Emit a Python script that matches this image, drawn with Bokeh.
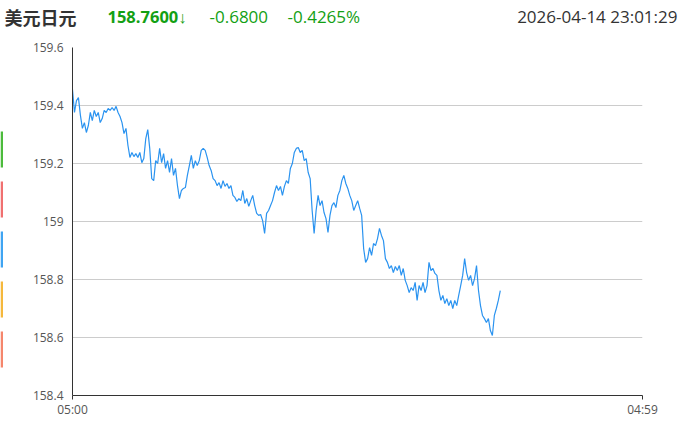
from bokeh.plotting import figure
from bokeh.models import Range1d, FixedTicker
from bokeh.layouts import column, row
from bokeh.embed import file_html
from bokeh.resources import INLINE
from bokeh.core.properties import value

# ---- header texts ----
title_name = "美元日元"
last_price = "158.7600↓"
change_abs = "-0.6800"
change_pct = "-0.4265%"
timestamp = "2026-04-14 23:01:29"

# ---- axes ----
x_tick_minutes = [0, 1439]
x_tick_labels = ["05:00", "04:59"]
y_ticks = [158.4, 158.6, 158.8, 159.0, 159.2, 159.4, 159.6]
y_tick_labels = ["158.4", "158.6", "158.8", "159", "159.2", "159.4", "159.6"]

# ---- series: price sampled every 5 minutes from 05:00 ----
step_minutes = 5
prices = [
    159.455, 159.376, 159.417, 159.427, 159.366, 159.321, 159.341, 159.307, 159.331, 159.376,
    159.348, 159.383, 159.362, 159.376, 159.341, 159.355, 159.383, 159.376, 159.390, 159.383,
    159.393, 159.383, 159.397, 159.376, 159.362, 159.341, 159.303, 159.321, 159.262, 159.221,
    159.238, 159.224, 159.234, 159.221, 159.238, 159.203, 159.217, 159.286, 159.317, 159.252,
    159.148, 159.141, 159.210, 159.200, 159.252, 159.203, 159.234, 159.183, 159.210, 159.169,
    159.217, 159.159, 159.183, 159.124, 159.079, 159.107, 159.114, 159.117, 159.159, 159.193,
    159.228, 159.183, 159.210, 159.193, 159.210, 159.245, 159.252, 159.245, 159.221, 159.193,
    159.176, 159.148, 159.141, 159.124, 159.134, 159.114, 159.141, 159.121, 159.131, 159.114,
    159.124, 159.090, 159.083, 159.069, 159.079, 159.072, 159.107, 159.062, 159.079, 159.052,
    159.072, 159.090, 159.055, 159.028, 159.021, 159.024, 159.003, 158.959, 159.028, 159.038,
    159.055, 159.072, 159.100, 159.124, 159.107, 159.121, 159.090, 159.121, 159.141, 159.131,
    159.183, 159.200, 159.238, 159.252, 159.255, 159.238, 159.245, 159.210, 159.217, 159.169,
    159.148, 159.038, 158.959, 159.038, 159.090, 159.055, 159.072, 159.031, 159.010, 158.962,
    159.021, 159.055, 159.065, 159.048, 159.090, 159.107, 159.141, 159.159, 159.131, 159.114,
    159.090, 159.072, 159.038, 159.055, 159.072, 159.045, 159.021, 158.907, 158.859, 158.872,
    158.910, 158.883, 158.924, 158.917, 158.941, 158.976, 158.952, 158.934, 158.872, 158.859,
    158.838, 158.848, 158.824, 158.845, 158.831, 158.848, 158.814, 158.838, 158.797, 158.779,
    158.755, 158.772, 158.762, 158.790, 158.728, 158.779, 158.762, 158.790, 158.755, 158.779,
    158.859, 158.831, 158.838, 158.821, 158.814, 158.762, 158.728, 158.745, 158.717, 158.734,
    158.710, 158.728, 158.700, 158.728, 158.710, 158.745, 158.779, 158.814, 158.872, 158.824,
    158.797, 158.814, 158.779, 158.803, 158.848, 158.762, 158.710, 158.676, 158.665, 158.652,
    158.665, 158.624, 158.607, 158.676, 158.700, 158.728, 158.762,
]
minutes = [i * step_minutes for i in range(len(prices))]

# ---- side tab colours ----
tab_colors = ["#4cbb3c", "#f07070", "#3fa4f2", "#f5b83c", "#f5866c"]

FONT = "Open Sans"
GREEN = "#13a013"

W, H = 695, 421
HEADER_H = 38
STRIP_W = 3
BORDER_TOP, BORDER_BOTTOM = 9, 26

# ---- header figure ----
h = figure(width=W, height=HEADER_H, x_range=Range1d(0, W), y_range=Range1d(HEADER_H, 0),
           output_backend="svg", toolbar_location=None, min_border=0,
           x_axis_type=None, y_axis_type=None)
h.outline_line_color = None
h.background_fill_color = "white"
h.border_fill_color = "white"
h.text(x=[4], y=[16], text=[title_name], text_font=value("Noto Sans CJK SC"),
       text_font_style="bold", text_font_size="18px", text_color="#333333",
       text_baseline="middle", text_align="left")
h.text(x=[107], y=[16], text=[last_price], text_font=value(FONT),
       text_font_style="bold", text_font_size="16.5px", text_color=GREEN,
       text_baseline="middle", text_align="left")
h.text(x=[209], y=[16], text=[change_abs], text_font=value(FONT),
       text_font_size="17px", text_color=GREEN,
       text_baseline="middle", text_align="left")
h.text(x=[287], y=[16], text=[change_pct], text_font=value(FONT),
       text_font_size="17px", text_color=GREEN,
       text_baseline="middle", text_align="left")
h.text(x=[677], y=[16], text=[timestamp], text_font=value(FONT),
       text_font_size="17px", text_color="#333333",
       text_baseline="middle", text_align="right")

# ---- side strip figure (frame aligned with the main chart frame: page y 47..395) ----
MAIN_H = H - HEADER_H
s = figure(width=STRIP_W, height=MAIN_H, x_range=Range1d(0, STRIP_W), y_range=Range1d(395, 47),
           output_backend="svg", toolbar_location=None, min_border=0,
           min_border_top=BORDER_TOP, min_border_bottom=BORDER_BOTTOM,
           x_axis_type=None, y_axis_type=None)
s.outline_line_color = None
s.background_fill_color = "white"
s.border_fill_color = "white"
tab_top = [131, 181, 231, 281, 331]
tab_bottom = [167, 217, 267, 317, 367]
s.quad(left=0, right=2.5, top=tab_top, bottom=tab_bottom, fill_color=tab_colors,
       line_color=None)

# ---- main chart ----
p = figure(width=W - STRIP_W, height=MAIN_H, x_range=Range1d(0, 1439), y_range=Range1d(158.4, 159.6),
           output_backend="svg", toolbar_location=None,
           min_border_left=69, min_border_right=53,
           min_border_top=BORDER_TOP, min_border_bottom=BORDER_BOTTOM)
p.outline_line_color = None
p.background_fill_color = "white"
p.border_fill_color = "white"
p.line(minutes, prices, line_color="#2a93f0", line_width=1.2)

p.xgrid.visible = False
p.ygrid.ticker = FixedTicker(ticks=y_ticks)
p.ygrid.grid_line_color = "#cccccc"
p.ygrid.grid_line_width = 1

p.yaxis.ticker = FixedTicker(ticks=y_ticks)
p.yaxis.major_label_overrides = dict(zip(y_ticks, y_tick_labels))
p.yaxis.axis_line_color = "#333333"
p.yaxis.major_tick_out = 0
p.yaxis.major_tick_in = 0
p.yaxis.minor_tick_out = 0
p.yaxis.minor_tick_in = 0
p.yaxis.major_label_standoff = 9
p.yaxis.major_label_text_font = FONT
p.yaxis.major_label_text_font_size = "12px"
p.yaxis.major_label_text_color = "#555555"

p.xaxis.ticker = FixedTicker(ticks=x_tick_minutes)
p.xaxis.major_label_overrides = dict(zip(x_tick_minutes, x_tick_labels))
p.xaxis.axis_line_color = "#333333"
p.xaxis.major_tick_line_color = "#333333"
p.xaxis.major_tick_out = 4
p.xaxis.major_tick_in = 0
p.xaxis.minor_tick_out = 0
p.xaxis.minor_tick_in = 0
p.xaxis.major_label_standoff = 1
p.xaxis.major_label_text_font = FONT
p.xaxis.major_label_text_font_size = "12px"
p.xaxis.major_label_text_color = "#555555"

layout = column(h, row(s, p))

open("out.html", "w").write(file_html(layout, INLINE))
